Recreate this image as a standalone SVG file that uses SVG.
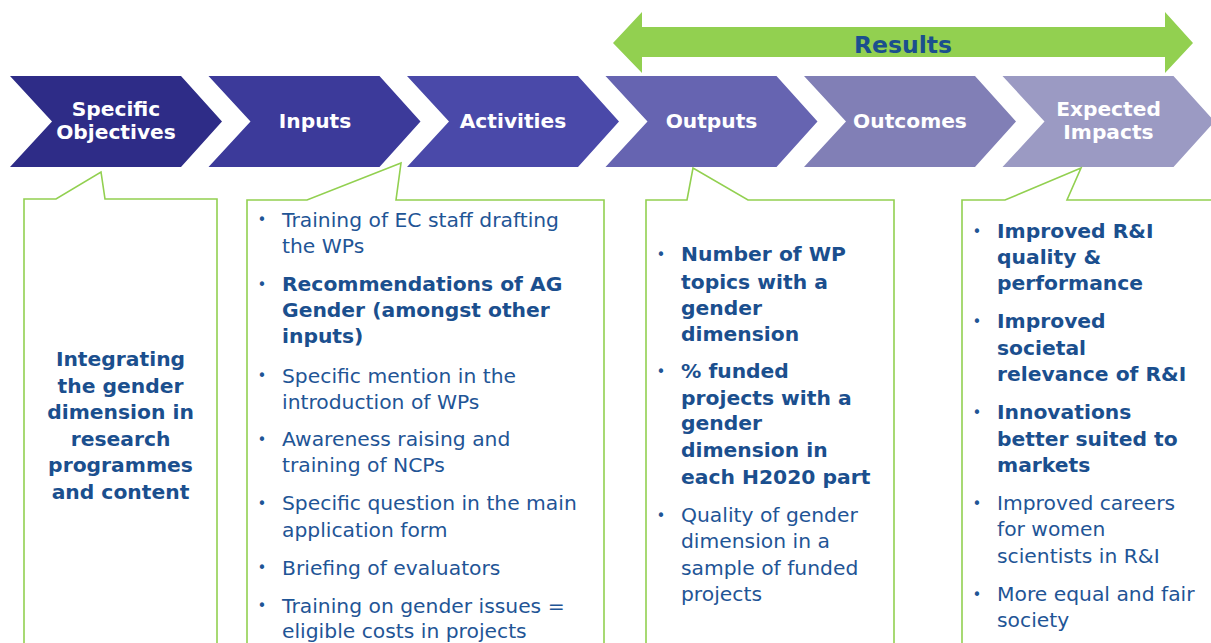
<svg xmlns="http://www.w3.org/2000/svg" width="1211" height="643" viewBox="0 0 1211 643">
<style>
.chev text{font-family:"DejaVu Sans",Verdana,sans-serif;font-weight:bold;font-size:20.2px;fill:#ffffff;text-anchor:middle}
.callout{fill:#ffffff;stroke:#92d050;stroke-width:1.6}
.t{font-family:"DejaVu Sans",Verdana,sans-serif;font-size:20.3px;fill:#1f5596}
.b{font-weight:bold;fill:#1b4f8e}
.bul{font-family:"DejaVu Sans",Verdana,sans-serif;font-size:15px;fill:#1f5596}
</style>
<rect width="1211" height="643" fill="#ffffff"/>

<g id="results-arrow">
<polygon points="613,43 642,12 642,27 1165,27 1165,12 1193,43 1165,73 1165,57 642,57 642,73" fill="#92d050"/>
<text x="903" y="52.5" font-family="DejaVu Sans,Verdana,sans-serif" font-weight="bold" font-size="23.5" fill="#1b4f8e" text-anchor="middle">Results</text>
</g>

<g id="chevrons">
<g id="node-specific-objectives" class="chev">
<path d="M10,76 H181 L222,121.5 L181,167 H10 L52,121.5 Z" fill="#2e2c87"/>
<text x="116" y="116">Specific</text>
<text x="116" y="139">Objectives</text>
</g>
<g id="node-inputs" class="chev">
<path d="M208.5,76 H379.5 L420.5,121.5 L379.5,167 H208.5 L250.5,121.5 Z" fill="#3c3a9a"/>
<text x="315" y="128">Inputs</text>
</g>
<g id="node-activities" class="chev">
<path d="M407,76 H578 L619,121.5 L578,167 H407 L449,121.5 Z" fill="#4a49a9"/>
<text x="513" y="128">Activities</text>
</g>
<g id="node-outputs" class="chev">
<path d="M605.5,76 H776.5 L817.5,121.5 L776.5,167 H605.5 L647.5,121.5 Z" fill="#6664b1"/>
<text x="711.5" y="128">Outputs</text>
</g>
<g id="node-outcomes" class="chev">
<path d="M804,76 H975 L1016,121.5 L975,167 H804 L846,121.5 Z" fill="#817fb6"/>
<text x="910" y="128">Outcomes</text>
</g>
<g id="node-expected-impacts" class="chev">
<path d="M1002.5,76 H1173.5 L1214.5,121.5 L1173.5,167 H1002.5 L1044.5,121.5 Z" fill="#9b9ac3"/>
<text x="1108.5" y="116">Expected</text>
<text x="1108.5" y="139">Impacts</text>
</g>
</g>

<g id="connectors"></g>

<g id="callout-objectives">
<path class="callout" d="M24,660 V199 H56 L101,172 L105,199 H217 V660"/>
<g class="t b" text-anchor="middle">
<text x="120.5" y="366">Integrating</text>
<text x="120.5" y="392.5">the gender</text>
<text x="120.5" y="419">dimension in</text>
<text x="120.5" y="445.5">research</text>
<text x="120.5" y="472">programmes</text>
<text x="120.5" y="498.5">and content</text>
</g>
</g>

<g id="callout-inputs">
<path class="callout" d="M247,660 V200 H307 L401,163 L396,200 H604 V660"/>
<g class="bul" text-anchor="middle">
<text x="262" y="225">•</text>
<text x="262" y="290">•</text>
<text x="262" y="381">•</text>
<text x="262" y="445">•</text>
<text x="262" y="509">•</text>
<text x="262" y="573">•</text>
<text x="262" y="611">•</text>
</g>
<g class="t">
<text x="282" y="226.5">Training of EC staff drafting</text>
<text x="282" y="253">the WPs</text>
<text class="b" x="282" y="291">Recommendations of AG</text>
<text class="b" x="282" y="317">Gender (amongst other</text>
<text class="b" x="282" y="343">inputs)</text>
<text x="282" y="382.5">Specific mention in the</text>
<text x="282" y="408.5">introduction of WPs</text>
<text x="282" y="446">Awareness raising and</text>
<text x="282" y="472">training of NCPs</text>
<text x="282" y="510">Specific question in the main</text>
<text x="282" y="536.5">application form</text>
<text x="282" y="574.5">Briefing of evaluators</text>
<text x="282" y="612.5">Training on gender issues =</text>
<text x="282" y="637.5">eligible costs in projects</text>
</g>
</g>

<g id="callout-outputs">
<path class="callout" d="M646,660 V200 H687 L693,168 L748,200 H894 V660"/>
<g class="bul" text-anchor="middle">
<text x="661" y="260">•</text>
<text x="661" y="377">•</text>
<text x="661" y="521">•</text>
</g>
<g class="t">
<text class="b" x="681" y="261">Number of WP</text>
<text class="b" x="681" y="289">topics with a</text>
<text class="b" x="681" y="315">gender</text>
<text class="b" x="681" y="340.5">dimension</text>
<text class="b" x="681" y="377.5">% funded</text>
<text class="b" x="681" y="404.5">projects with a</text>
<text class="b" x="681" y="430">gender</text>
<text class="b" x="681" y="457">dimension in</text>
<text class="b" x="681" y="483.5">each H2020 part</text>
<text x="681" y="522">Quality of gender</text>
<text x="681" y="548">dimension in a</text>
<text x="681" y="574.5">sample of funded</text>
<text x="681" y="600.5">projects</text>
</g>
</g>

<g id="callout-impacts">
<path class="callout" d="M962,660 V200 H1005 L1081,168 L1067,200 H1220 V660"/>
<g class="bul" text-anchor="middle">
<text x="977" y="237">•</text>
<text x="977" y="327">•</text>
<text x="977" y="418">•</text>
<text x="977" y="509">•</text>
<text x="977" y="600">•</text>
</g>
<g class="t">
<text class="b" x="997" y="238">Improved R&amp;I</text>
<text class="b" x="997" y="264">quality &amp;</text>
<text class="b" x="997" y="290">performance</text>
<text class="b" x="997" y="328">Improved</text>
<text class="b" x="997" y="354.5">societal</text>
<text class="b" x="997" y="381">relevance of R&amp;I</text>
<text class="b" x="997" y="419">Innovations</text>
<text class="b" x="997" y="445.5">better suited to</text>
<text class="b" x="997" y="471.5">markets</text>
<text x="997" y="510">Improved careers</text>
<text x="997" y="536">for women</text>
<text x="997" y="562.5">scientists in R&amp;I</text>
<text x="997" y="600.5">More equal and fair</text>
<text x="997" y="626.5">society</text>
</g>
</g>
</svg>
